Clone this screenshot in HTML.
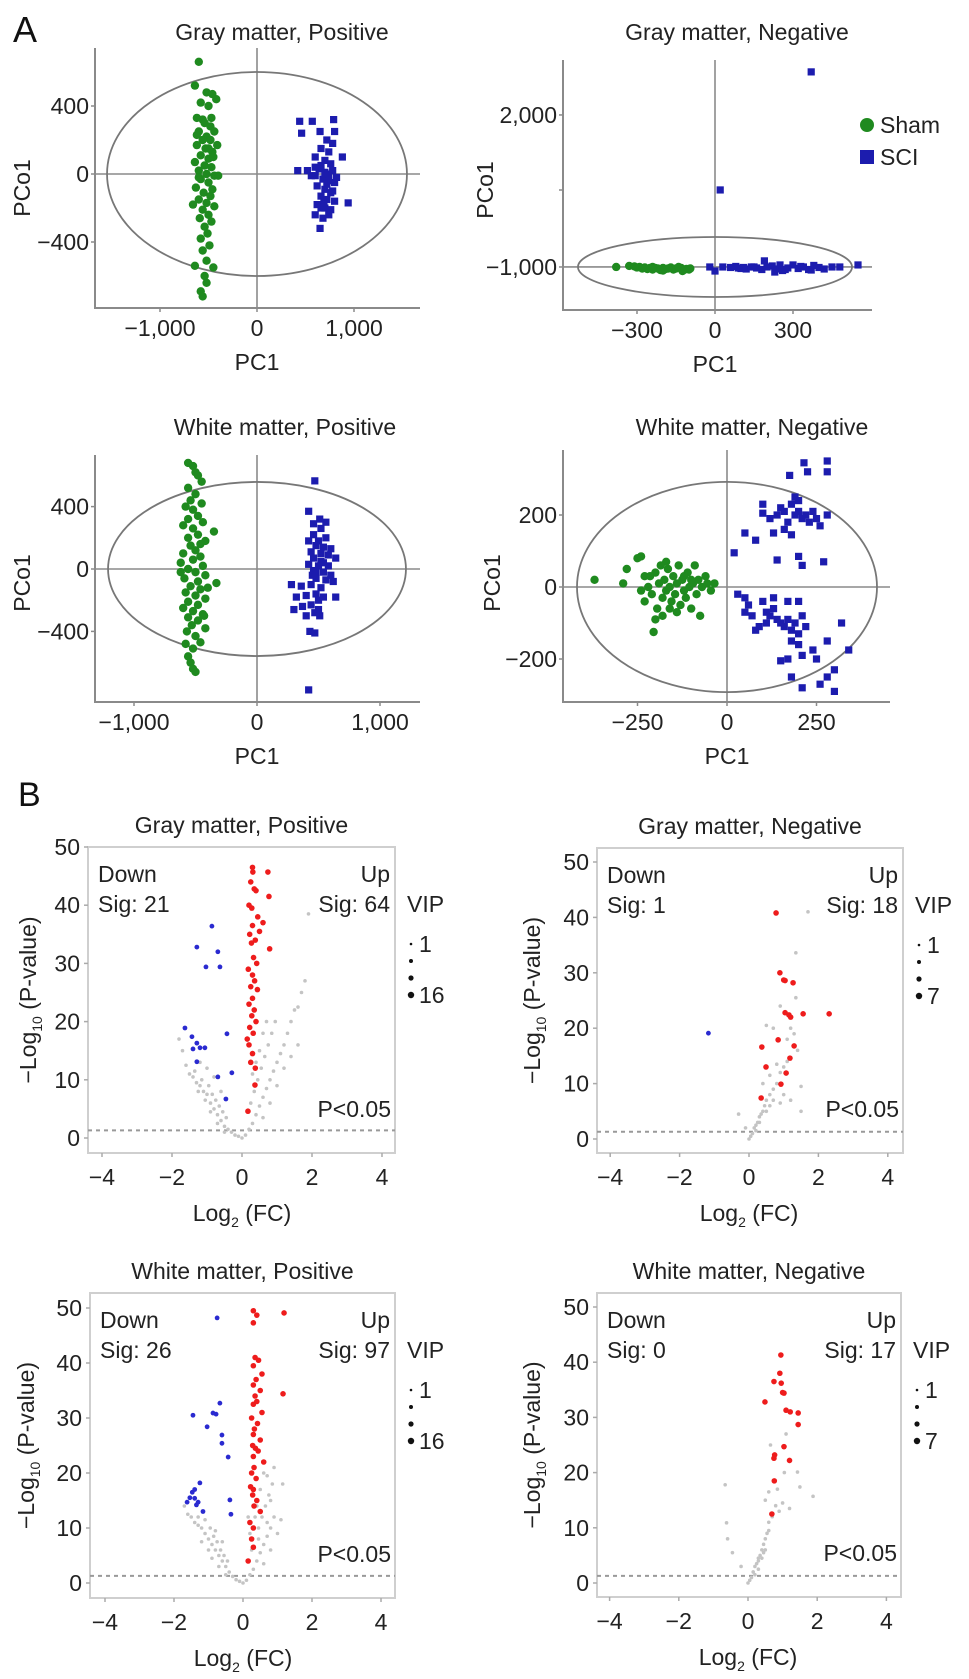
<!DOCTYPE html>
<html><head><meta charset="utf-8">
<style>
html,body{margin:0;padding:0;background:#fff;}
svg{display:block;font-family:"Liberation Sans",Arial,sans-serif;}
</style></head>
<body>
<svg id="fig" width="969" height="1679" viewBox="0 0 969 1679" xmlns="http://www.w3.org/2000/svg">
<text x="13" y="42" font-size="36" fill="#111">A</text>
<text x="18" y="806" font-size="34" fill="#111">B</text>
</svg>
<script>
// ---------- PCA data ----------
const pca1Sham = [[-600,660],[-640,520],[-520,480],[-460,470],[-420,440],[-580,420],[-500,400],[-560,320],[-470,330],[-620,330],[-540,300],[-480,280],[-440,250],[-600,250],[-520,220],[-560,200],[-480,200],[-410,170],[-620,170],[-530,150],[-460,130],[-580,110],[-500,90],[-640,70],[-540,50],[-470,40],[-600,20],[-520,0],[-440,-10],[-580,-30],[-500,-50],[-630,-80],[-460,-90],[-550,-110],[-480,-130],[-600,-150],[-520,-170],[-660,-180],[-440,-190],[-560,-210],[-500,-240],[-590,-260],[-470,-280],[-540,-310],[-510,-350],[-580,-380],[-490,-420],[-560,-450],[-520,-510],[-640,-540],[-450,-550],[-540,-600],[-520,-640],[-580,-690],[-560,-720],[-600,-20],[-450,100],[-400,-10],[-620,230],[-500,150]];
const pca1Sci = [[440,310],[570,310],[790,320],[460,240],[650,250],[800,250],[720,200],[780,180],[660,150],[740,130],[880,100],[600,100],[700,80],[760,60],[420,20],[520,20],[640,30],[700,10],[780,20],[600,-10],[680,-30],[740,-40],[800,-50],[620,-70],[700,-90],[760,-110],[660,-130],[720,-150],[800,-160],[940,-170],[620,-180],[700,-200],[760,-210],[600,-240],[680,-260],[740,-240],[650,-320],[560,-10],[660,50],[720,-60],[780,-100],[690,-170],[600,40],[740,0],[820,-20],[660,-200]];
const pca2Sham = [[-380,-1000],[-330,-980],[-310,-990],[-290,-1000],[-270,-1010],[-250,-1020],[-240,-1000],[-220,-1030],[-200,-1020],[-190,-1040],[-170,-1010],[-160,-1050],[-150,-1030],[-130,-1020],[-120,-1060],[-110,-1040],[-100,-1050],[-95,-1030],[-300,-1010],[-260,-1040],[-230,-1020],[-210,-1060],[-180,-1030],[-140,-1000],[-125,-1080],[-200,-1070],[-240,-1050],[-280,-1030]];
const pca2Sci = [[-20,-1000],[0,-1080],[30,-1000],[60,-1010],[80,-990],[100,-1030],[120,-1040],[140,-1000],[160,-1020],[180,-1050],[200,-1000],[220,-980],[240,-1040],[260,-1070],[280,-1020],[300,-960],[320,-1030],[340,-1000],[360,-1050],[380,-970],[400,-1010],[420,-1040],[450,-1000],[480,-1000],[550,-960],[190,-880],[230,-1100],[110,-1010],[270,-1050],[330,-990],[90,-1020],[150,-1000],[370,-1060],[250,-960],[20,520],[370,2850]];
const pca3Sham = [[-560,680],[-520,660],[-500,620],[-480,600],[-450,560],[-560,520],[-500,480],[-540,440],[-450,420],[-580,400],[-520,380],[-480,340],[-560,320],[-440,300],[-350,240],[-600,280],[-520,260],[-480,220],[-560,200],[-420,180],[-540,150],[-500,120],[-600,100],[-460,80],[-520,60],[-620,40],[-440,20],[-560,0],[-500,-20],[-420,-40],[-590,-60],[-480,-80],[-330,-90],[-540,-110],[-460,-130],[-580,-150],[-500,-170],[-420,-190],[-560,-210],[-480,-230],[-600,-250],[-520,-270],[-440,-290],[-560,-310],[-480,-330],[-530,-360],[-420,-380],[-570,-400],[-500,-430],[-460,-470],[-580,-480],[-520,-510],[-560,-560],[-540,-600],[-520,-640],[-500,-660],[-430,-300],[-620,-20],[-460,160],[-400,-120]];
const pca3Sci = [[470,565],[420,370],[510,320],[460,290],[560,300],[520,260],[460,220],[420,180],[500,180],[560,200],[480,150],[540,140],[600,130],[440,110],[520,100],[580,90],[460,70],[520,50],[640,70],[420,30],[500,20],[580,20],[460,-10],[540,-20],[600,-40],[480,-60],[560,-70],[620,-80],[280,-100],[360,-110],[440,-100],[520,-120],[320,-180],[400,-170],[480,-160],[540,-180],[640,-180],[300,-260],[370,-240],[440,-230],[500,-260],[400,-300],[470,-280],[510,-300],[430,-400],[470,-410],[420,-775],[480,-20],[500,-200],[540,40],[450,-40]];
const pca4Sham = [[-370,20],[-290,10],[-280,50],[-250,80],[-240,85],[-230,30],[-220,0],[-210,-20],[-200,40],[-195,-60],[-190,10],[-185,60],[-180,-30],[-175,20],[-170,-10],[-165,50],[-160,0],[-155,-40],[-150,30],[-145,-20],[-140,10],[-135,60],[-130,-50],[-125,20],[-120,-10],[-115,-30],[-110,40],[-105,0],[-100,-60],[-95,10],[-90,60],[-85,-20],[-80,20],[-75,-80],[-70,0],[-60,30],[-55,10],[-45,-10],[-35,10],[-200,-90],[-180,-80],[-205,-125],[-230,-40],[-215,30],[-160,-60],[-140,-70],[-120,30],[-100,20],[-240,-10],[-170,70]];
const pca4Sci = [[20,95],[50,150],[80,130],[100,205],[120,190],[140,200],[150,220],[160,210],[170,180],[180,230],[190,200],[200,210],[210,190],[220,200],[230,180],[240,210],[250,190],[260,170],[280,200],[130,150],[160,160],[180,145],[140,75],[200,85],[210,60],[270,70],[200,240],[175,310],[215,345],[225,320],[280,350],[280,320],[100,230],[190,250],[30,-20],[50,-30],[60,-50],[70,-80],[80,-120],[50,-70],[100,-40],[110,-70],[120,-80],[130,-60],[140,-90],[150,-100],[160,-110],[170,-90],[180,-120],[190,-100],[200,-130],[210,-80],[220,-110],[180,-150],[200,-160],[210,-190],[170,-200],[240,-175],[250,-200],[280,-150],[300,-230],[280,-250],[260,-270],[210,-280],[300,-290],[340,-175],[320,-100],[150,-205],[180,-250],[130,-30],[170,-40],[200,-40],[90,-110],[110,-100]];
const pca1XTicks = [-1000,0,1000], pca1YTicks = [-400,0,400];
const pca2XTicks = [-300,0,300], pca2YTicks = [-1000,2000];
const pca3XTicks = [-1000,0,1000], pca3YTicks = [-400,0,400];
const pca4XTicks = [-250,0,250], pca4YTicks = [-200,0,200];

// ---------- Volcano data ----------
const v1Up = [[0.31,45.7],[0.74,45.7],[0.3,46.5],[0.25,44],[0.4,42.5],[0.77,41.5],[0.35,42.8],[0.2,40],[0.28,39.5],[0.45,38],[0.6,37],[0.3,36.5],[0.22,35],[0.5,35.5],[0.38,34],[0.79,32.5],[0.27,33.5],[0.33,31],[0.42,30],[0.18,29],[0.3,28],[0.36,27],[0.25,26],[0.44,25.5],[0.3,24],[0.2,23],[0.35,22],[0.28,21],[0.4,20],[0.22,19],[0.32,18],[0.15,17],[0.2,16],[0.3,14.5],[0.25,13],[0.38,12],[0.37,9.1],[0.17,4.6]];
const v1Down = [[-0.86,36.4],[-1.29,32.8],[-0.69,32],[-1.03,29.4],[-0.63,29.4],[-1.63,18.9],[-1.43,17.4],[-1.29,16.3],[-1.2,15.5],[-1.06,15.5],[-1.4,15.3],[-1.29,13.1],[-0.43,17.9],[-0.69,10.5],[-0.29,11.2],[-0.46,6.7]];
const v1NS = [[-1.8,17],[-1.7,15],[-1.6,12.5],[-1.5,11],[-1.4,10.5],[-1.3,9.5],[-1.2,9],[-1.1,8],[-1.0,7.5],[-0.9,6],[-0.8,5],[-0.7,4],[-0.6,3],[-0.5,2],[-0.4,1.5],[-0.3,1],[-0.2,0.5],[-1.35,11.5],[-1.15,10],[-0.95,9],[-0.85,7.5],[-0.75,6.5],[-0.65,5.5],[-0.55,4.5],[-0.45,3.5],[-1.25,8],[-1.05,6.5],[-0.9,4.5],[-0.7,2.5],[-0.5,1],[-1.0,12],[-1.2,13],[-0.8,10.5],[-0.6,8],[0.1,0.5],[0.2,1.5],[0.3,2.5],[0.4,4],[0.5,5.5],[0.6,7],[0.7,8.5],[0.8,10],[0.9,11.5],[1.0,13],[1.1,14.5],[1.2,16],[1.3,18],[0.35,8],[0.45,10],[0.55,12],[0.65,14],[0.75,16],[0.85,18],[0.95,20],[0.5,15],[0.6,18],[0.7,20],[1.5,22],[1.7,25],[1.8,27],[1.9,38.5],[1.4,20],[1.6,22.5],[0.25,6],[0.3,11],[0.4,13],[1.0,9],[1.2,12],[0.8,6],[0.6,3.5],[0.0,0],[-0.1,0.3],[1.4,14],[1.6,16]];
const v2Up = [[0.78,40.8],[0.89,30],[1.0,28.7],[1.04,28.6],[1.27,28.2],[1.04,22.8],[1.15,22.4],[1.56,22.6],[2.31,22.6],[0.84,17.9],[0.37,16.6],[1.3,16.8],[1.18,14.6],[0.49,13],[1.07,11.9],[0.92,9.9],[0.35,7.4],[1.2,22]];
const v2Down = [[-1.17,19.1]];
const v2NS = [[0,0],[0.05,0.5],[0.1,1],[0.15,2],[0.2,2.5],[0.25,3],[0.3,4],[0.35,4.5],[0.4,5],[0.45,6],[0.5,7],[0.6,8],[0.7,9],[0.8,10],[0.9,12],[1.0,13],[1.1,14],[0.2,1.5],[0.3,3],[0.5,5],[0.6,6],[0.7,7],[-0.3,4.5],[-0.1,2],[0.4,10],[0.6,11.5],[0.9,6.5],[1.2,7],[1.5,5],[1.5,9.5],[0.5,20.5],[0.7,20],[1.3,19],[1.4,16],[1.2,20],[1.35,25.5],[1.35,33.6],[1.7,41],[0.9,24],[1.1,18],[0.8,13.5],[1.0,8]];
const v3Up = [[1.19,49.1],[1.16,34.4],[0.3,49.5],[0.4,48.7],[0.3,47.3],[0.35,41],[0.45,40.5],[0.3,39.5],[0.55,38],[0.38,37],[0.3,36],[0.5,35],[0.35,34],[0.4,33],[0.3,32.5],[0.55,31],[0.25,30],[0.42,29],[0.33,28],[0.3,27],[0.5,26],[0.28,25],[0.36,24.5],[0.44,24],[0.3,23],[0.6,22],[0.32,21],[0.25,20],[0.38,19],[0.22,17.5],[0.3,17],[0.28,16],[0.4,15],[0.32,14],[0.5,13],[0.2,11],[0.3,10],[0.25,8],[0.3,6.5],[0.15,4]];
const v3Down = [[-0.75,48.2],[-1.45,30.5],[-0.87,30.9],[-0.78,30.7],[-0.67,32.7],[-1.04,28.4],[-0.61,26.9],[-0.61,25.4],[-0.43,22.9],[-1.25,18.2],[-1.4,17],[-1.54,15.5],[-1.62,14.7],[-1.3,14.7],[-1.35,14.2],[-1.16,13],[-0.38,15.1],[-0.35,12.5],[-1.4,15.4],[-1.47,16.5]];
const v3NS = [[-1.7,14],[-1.6,12.5],[-1.5,12],[-1.4,11],[-1.3,10.5],[-1.2,10],[-1.1,9],[-1.0,8],[-0.9,7],[-0.8,6],[-0.7,5],[-0.6,4],[-0.5,3],[-0.4,2],[-0.3,1.2],[-0.2,0.6],[-1.3,12],[-1.1,11.5],[-0.95,10],[-0.85,8.5],[-0.75,7.5],[-0.65,6],[-0.55,5],[-0.45,4],[-1.2,7.5],[-1.0,6],[-0.9,4.5],[-0.7,3],[-0.5,1.5],[-0.8,9.5],[-0.6,7.5],[0.1,0.5],[0.2,1.5],[0.3,2.5],[0.4,4],[0.5,5.5],[0.6,7],[0.7,8.5],[0.8,10],[0.9,12],[1.1,11.5],[0.45,10],[0.55,12],[0.65,14],[0.75,16],[0.85,18],[0.9,21],[0.6,20],[0.7,19.5],[1.15,18],[0.8,15],[0.5,17],[0.25,6],[0.35,12],[0.4,14],[1.0,9],[0.8,6],[0.6,3.5],[0.0,0],[-0.1,0.3],[0.2,9],[0.45,8],[0.7,11],[0.15,12]];
const v4Up = [[0.95,41.3],[0.92,38],[0.75,36.5],[0.96,36.2],[1.04,34.4],[1.0,34.5],[0.49,32.8],[1.1,31.3],[1.22,31],[1.45,30.8],[1.45,28.7],[1.04,24.7],[0.77,23.2],[0.75,22.6],[1.2,22.2],[0.76,18.5],[0.69,12.5]];
const v4Down = [];
const v4NS = [[0,0],[0.05,0.5],[0.1,1],[0.15,2],[0.2,3],[0.25,3.5],[0.3,4],[0.35,5],[0.4,6],[0.45,7],[0.5,8],[0.55,9],[0.6,9.5],[0.3,2.5],[0.2,1.5],[0.4,4.5],[0.5,6],[-0.66,17.8],[-0.62,10.9],[-0.59,8],[-0.45,5.5],[-0.2,3],[1.88,15.7],[1.5,17.4],[1.43,20.1],[0.5,15],[0.6,16.5],[0.8,14],[0.9,13],[1.0,14.5],[0.7,12],[0.65,25],[0.85,17],[1.1,27],[1.05,20],[1.2,13.5],[0.6,11],[0.3,4.5],[0.45,5.5]];
const volXTicks = [-4,-2,0,2,4];
const volYTicks = [0,10,20,30,40,50];

const NS = "http://www.w3.org/2000/svg";
const svg = document.getElementById('fig');
function mk(tag, attrs, parent){
  const e = document.createElementNS(NS, tag);
  for (const k in attrs) e.setAttribute(k, attrs[k]);
  (parent||svg).appendChild(e);
  return e;
}
function fmt(v){
  const a = Math.abs(v).toString().replace(/\B(?=(\d{3})+(?!\d))/g, ",");
  return (v<0?"\u2212":"") + a;
}
const AX = "#8a8a8a";

function pca(c){
  const g = mk('g', {});
  
  
  const X = v => c.cx + v*c.kx, Y = v => c.cy - v*c.ky;
  const t = mk('text', {x:c.tx, y:c.ty, 'font-size':23, 'text-anchor':'middle', fill:'#222'}, g);
  t.textContent = c.title;
  
  
  const ax = mk('path', {d:`M${c.left} ${c.top} V${c.bottom} H${c.right}`, stroke:AX, 'stroke-width':2, fill:'none'}, g);
  
  
  const hl = mk('line', {x1:c.left, x2:c.right, y1:Y(c.ey), y2:Y(c.ey), stroke:AX, 'stroke-width':1.6}, g);
  
  
  const vl = mk('line', {x1:X(c.ex), x2:X(c.ex), y1:c.top, y2:c.bottom, stroke:AX, 'stroke-width':1.6}, g);
  
  
  const el = mk('ellipse', {cx:X(c.ex), cy:Y(c.ey), rx:c.erx*c.kx, ry:c.ery*c.ky, stroke:'#777', 'stroke-width':1.8, fill:'none'}, g);
  
  
  c.xt.forEach(v=>{
    mk('line',{x1:X(v),x2:X(v),y1:c.bottom,y2:c.bottom+4,stroke:AX,'stroke-width':1.5},g);
    const tt = mk('text',{x:X(v),y:c.bottom+28,'font-size':23,'text-anchor':'middle',fill:'#222'},g);
    tt.textContent = fmt(v);
    
    
  });
  c.yt.forEach(v=>{
    mk('line',{x1:c.left-4,x2:c.left,y1:Y(v),y2:Y(v),stroke:AX,'stroke-width':1.5},g);
    const tt = mk('text',{x:c.left-6,y:Y(v)+8,'font-size':23,'text-anchor':'end',fill:'#222'},g);
    tt.textContent = fmt(v);
    
    
  });
  const xl = mk('text',{x:X(0),y:c.bottom+62,'font-size':23,'text-anchor':'middle',fill:'#222'},g);
  xl.textContent = 'PC1';
  
  
  const yl = mk('text',{x:0,y:0,'font-size':23,'text-anchor':'middle',fill:'#222',transform:`translate(${c.ylx},${c.yly}) rotate(-90)`},g);
  yl.textContent = 'PCo1';
  
  
  c.sham.forEach(p=>{
    const d = mk('circle',{cx:X(p[0]),cy:Y(p[1]),r:4.2,fill:'#1f8a1f'},g);
    
    
  });
  c.sci.forEach(p=>{
    const d = mk('rect',{x:X(p[0])-3.6,y:Y(p[1])-3.6,width:7.2,height:7.2,fill:'#1c1cae'},g);
    
    
  });
}

pca({name:'pca-gray-positive', title:'Gray matter, Positive', tx:282, ty:40, left:95, top:48, bottom:308, right:420,
  cx:257, kx:0.097, cy:174, ky:0.17, ex:0, ey:0, erx:1546, ery:600, xt:pca1XTicks, yt:pca1YTicks, ylx:30, yly:188, sham:pca1Sham, sci:pca1Sci});
pca({name:'pca-gray-negative', title:'Gray matter, Negative', tx:737, ty:40, left:563, top:60, bottom:310, right:872,
  cx:715, kx:0.26, cy:216.3, ky:0.05067, ex:0, ey:-1000, erx:527, ery:592, xt:pca2XTicks, yt:pca2YTicks, ylx:493, yly:190, sham:pca2Sham, sci:pca2Sci});
pca({name:'pca-white-positive', title:'White matter, Positive', tx:285, ty:435, left:95, top:455, bottom:702, right:420,
  cx:257, kx:0.123, cy:569, ky:0.156, ex:0, ey:0, erx:1211, ery:558, xt:pca3XTicks, yt:pca3YTicks, ylx:30, yly:583, sham:pca3Sham, sci:pca3Sci});
pca({name:'pca-white-negative', title:'White matter, Negative', tx:752, ty:435, left:563, top:450, bottom:702, right:890,
  cx:727, kx:0.358, cy:587, ky:0.36, ex:0, ey:0, erx:419, ery:292, xt:pca4XTicks, yt:pca4YTicks, ylx:500, yly:583, sham:pca4Sham, sci:pca4Sci});
// minor tick on gray-negative y axis
mk('line',{x1:559,x2:563,y1:190,y2:190,stroke:AX,'stroke-width':1.5});

// legend
const lg = mk('g',{});


const lc = mk('circle',{cx:867,cy:125,r:7,fill:'#1f8a1f'},lg);


const lt1 = mk('text',{x:880,y:133,'font-size':23,fill:'#222'},lg); lt1.textContent='Sham';


const ls = mk('rect',{x:860,y:150,width:14,height:14,fill:'#1c1cae'},lg);


const lt2 = mk('text',{x:880,y:165,'font-size':23,fill:'#222'},lg); lt2.textContent='SCI';



function volcano(c){
  const g = mk('g',{});
  
  
  const X = v => c.x0 + v*c.kx, Y = v => c.y0 - v*c.ky;
  const t = mk('text',{x:(c.left+c.right)/2,y:c.top-14,'font-size':23,'text-anchor':'middle',fill:'#222'},g);
  t.textContent = c.title;
  
  
  const box = mk('rect',{x:c.left,y:c.top,width:c.right-c.left,height:c.bottom-c.top,fill:'none',stroke:'#cfcfcf','stroke-width':2},g);
  
  
  volXTicks.forEach(v=>{
    mk('line',{x1:X(v),x2:X(v),y1:c.bottom,y2:c.bottom+4,stroke:'#aaa','stroke-width':1.5},g);
    const tt = mk('text',{x:X(v),y:c.bottom+32,'font-size':23,'text-anchor':'middle',fill:'#222'},g);
    tt.textContent = fmt(v);
    
    
  });
  volYTicks.forEach(v=>{
    mk('line',{x1:c.left-4,x2:c.left,y1:Y(v),y2:Y(v),stroke:'#aaa','stroke-width':1.5},g);
    const tt = mk('text',{x:c.left-8,y:Y(v)+8,'font-size':23,'text-anchor':'end',fill:'#222'},g);
    tt.textContent = String(v);
    
    
  });
  const dl = mk('line',{x1:c.left,x2:c.right,y1:Y(1.3),y2:Y(1.3),stroke:'#999','stroke-width':2,'stroke-dasharray':'4 4'},g);
  
  
  c.ns.forEach(p=>{
    const d = mk('circle',{cx:X(p[0]),cy:Y(p[1]),r:1.8,fill:'#c4c4c4'},g);
    
    
  });
  c.down.forEach(p=>{
    const d = mk('circle',{cx:X(p[0]),cy:Y(p[1]),r:2.4,fill:'#2a2ad0'},g);
    
    
  });
  c.up.forEach(p=>{
    const d = mk('circle',{cx:X(p[0]),cy:Y(p[1]),r:2.8,fill:'#ee1c1c'},g);
    
    
  });
  const txt = (s,x,y,anchor,name)=>{
    const e = mk('text',{x:x,y:y,'font-size':23,'text-anchor':anchor,fill:'#222'},g);
    e.textContent = s;
    
    
    return e;
  };
  txt('Down', c.left+10, c.top+35, 'start', 'down-label');
  txt('Sig: '+c.sigDown, c.left+10, c.top+65, 'start', 'down-count');
  txt('Up', c.right-5, c.top+35, 'end', 'up-label');
  txt('Sig: '+c.sigUp, c.right-5, c.top+65, 'end', 'up-count');
  txt('P<0.05', c.right-4, c.bottom-36, 'end', 'threshold-label');
  txt('VIP', c.right+12, c.top+65, 'start', 'vip-legend-title');
  [[97,1.3],[114,2],[131,2.6],[148,3.2]].forEach(a=>{
    const d = mk('circle',{cx:c.right+16,cy:c.top+a[0],r:a[1],fill:'#111'},g);
    
    
  });
  txt('1', c.right+24, c.top+105, 'start', 'vip-legend-min');
  txt(c.vipMax, c.right+24, c.top+156, 'start', 'vip-legend-max');
  const xl = mk('text',{x:X(0),y:c.bottom+68,'font-size':23,'text-anchor':'middle',fill:'#222'},g);
  xl.innerHTML = 'Log<tspan font-size="14" dy="6">2</tspan><tspan dy="-6"> (FC)</tspan>';
  
  
  const yl = mk('text',{x:0,y:0,'font-size':23,'text-anchor':'middle',fill:'#222',transform:`translate(${c.ylx},${(c.top+c.bottom)/2}) rotate(-90)`},g);
  yl.innerHTML = '\u2212Log<tspan font-size="14" dy="6">10</tspan><tspan dy="-6"> (P-value)</tspan>';
  
  
}

volcano({name:'volcano-gray-positive', title:'Gray matter, Positive', left:88, right:395, top:847, bottom:1153, x0:242, kx:35, y0:1138, ky:5.82,
  up:v1Up, down:v1Down, ns:v1NS, sigDown:21, sigUp:64, vipMax:'16', ylx:36});
volcano({name:'volcano-gray-negative', title:'Gray matter, Negative', left:597, right:903, top:848, bottom:1153, x0:749, kx:34.7, y0:1139, ky:5.54,
  up:v2Up, down:v2Down, ns:v2NS, sigDown:1, sigUp:18, vipMax:'7', ylx:540});
volcano({name:'volcano-white-positive', title:'White matter, Positive', left:90, right:395, top:1293, bottom:1598, x0:243, kx:34.5, y0:1583, ky:5.5,
  up:v3Up, down:v3Down, ns:v3NS, sigDown:26, sigUp:97, vipMax:'16', ylx:34});
volcano({name:'volcano-white-negative', title:'White matter, Negative', left:597, right:901, top:1293, bottom:1597, x0:748, kx:34.6, y0:1583, ky:5.52,
  up:v4Up, down:v4Down, ns:v4NS, sigDown:0, sigUp:17, vipMax:'7', ylx:540});
</script>
</body></html>
